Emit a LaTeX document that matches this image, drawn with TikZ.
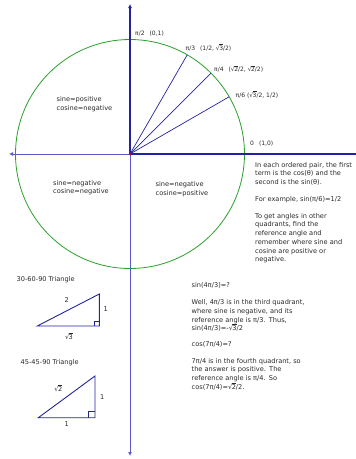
\documentclass[tikz,border=0pt]{standalone}
\usepackage{fontspec}
\setmainfont{DejaVu Sans}
\usetikzlibrary{arrows.meta}
\definecolor{axdark}{RGB}{35,35,160}
\definecolor{axlight}{RGB}{90,90,200}
\definecolor{circ}{RGB}{40,160,40}
\definecolor{txt}{RGB}{40,40,40}
\newcommand\rt[1]{√\kern-0.08em$\overline{\hbox{#1}}$}
\begin{document}
\begin{tikzpicture}[x=1pt,y=-1pt,
  lbl/.style={inner sep=0pt,text=txt,font=\fontsize{6.6}{8.7}\selectfont},
  ang/.style={inner sep=0pt,text=txt,anchor=west,font=\fontsize{6}{8}\selectfont},
  blk/.style={lbl,anchor=north west,align=left},
  ray/.style={draw=axdark,line width=0.7pt},
  tri/.style={draw=axdark,line width=0.9pt},
  tip/.style={-{Latex[length=4pt,width=4pt]}}]
\useasboundingbox (0,0) rectangle (356,459);
\coordinate (O) at (130,154);
\coordinate (R) at (356,154);
\coordinate (L) at (9,154);
\coordinate (T) at (130,4);
\coordinate (B) at (130,456);
\draw[circ,line width=0.8pt] (O) circle (114.5);
\draw[axlight,line width=0.8pt,tip] (O) -- (L);
\draw[axlight,line width=0.8pt,tip] (O) -- (B);
\draw[axdark,line width=1.1pt] (O) -- (R);
\draw[axdark,line width=1.1pt,tip] (O) -- (T);
\coordinate (P60) at (187.25,54.8);
\coordinate (P45) at (211,73);
\coordinate (P30) at (229.2,96.75);
\draw[ray] (O) -- (P60);
\draw[ray] (O) -- (P45);
\draw[ray] (O) -- (P30);
\fill[red!80!black] (O) circle (1.3);
% angle labels
\node[ang] (l90) at (135,33.5) {π/2\hspace{5pt}(0,1)};
\node[ang] (l60) at (185.5,47.5) {π/3\hspace{5pt}(1/2, \rt{3}/2)};
\node[ang] (l45) at (214,69) {π/4\hspace{5pt}(\rt{2}/2, \rt{2}/2)};
\node[ang] (l30) at (235.5,94.5) {π/6 (\rt{3}/2, 1/2)};
\node[ang] (l0) at (250,143.5) {0\hspace{5pt}(1,0)};
% quadrants
\node[blk] (q2) at (56.5,96.5) {sine=positive\\cosine=negative};
\node[blk] (q3) at (53,180) {sine=negative\\cosine=negative};
\node[blk] (q4) at (155.5,181.5) {sine=negative\\cosine=positive};
% explanation
\node[blk] (ex1) at (255,162) {In each ordered pair, the first\\term is the cos(θ) and the\\second is the sin(θ).};
\node[blk] (ex2) at (255,196.5) {For example, sin(π/6)=1/2};
\node[blk] (ex3) at (255,213) {To get angles in other\\quadrants, find the\\reference angle and\\remember where sine and\\cosine are positive or\\negative.};
% triangles
\node[lbl,anchor=west] (t1) at (16.5,279.5) {30-60-90 Triangle};
\coordinate (A1) at (37.3,326);
\coordinate (B1) at (99.3,326);
\coordinate (C1) at (99.3,294);
\draw[tri] (A1) -- (B1) -- (C1) -- cycle;
\draw[tri,line width=0.7pt] (94.3,326) -- (94.3,321) -- (99.3,321);
\node[lbl] (t1a) at (66.7,300) {2};
\node[lbl] (t1b) at (105.7,309.5) {1};
\node[lbl] (t1c) at (69,336.5) {\rt{3}};
\node[lbl,anchor=west] (t2) at (20.5,362.5) {45-45-90 Triangle};
\coordinate (A2) at (38.3,417.7);
\coordinate (B2) at (95,417.7);
\coordinate (C2) at (95,376);
\draw[tri] (A2) -- (B2) -- (C2) -- cycle;
\draw[tri,line width=0.7pt] (88.5,417.7) -- (88.5,411.2) -- (95,411.2);
\node[lbl] (t2a) at (58.3,388) {\rt{2}};
\node[lbl] (t2b) at (102.3,397.3) {1};
\node[lbl] (t2c) at (66.7,424.3) {1};
% examples
\node[blk] (e1) at (191.5,282.5) {sin(4π/3)=?};
\node[blk] (e2) at (191.5,299.5) {Well, 4π/3 is in the third quadrant,\\where sine is negative, and its\\reference angle is π/3.\enspace Thus,\\sin(4π/3)=-\rt{3}/2};
\node[blk] (e3) at (191.5,341) {cos(7π/4)=?};
\node[blk] (e4) at (191.5,358) {7π/4 is in the fourth quadrant, so\\the answer is positive.\enspace The\\reference angle is π/4.\enspace So\\cos(7π/4)=\rt{2}/2.};
\end{tikzpicture}
\end{document}
